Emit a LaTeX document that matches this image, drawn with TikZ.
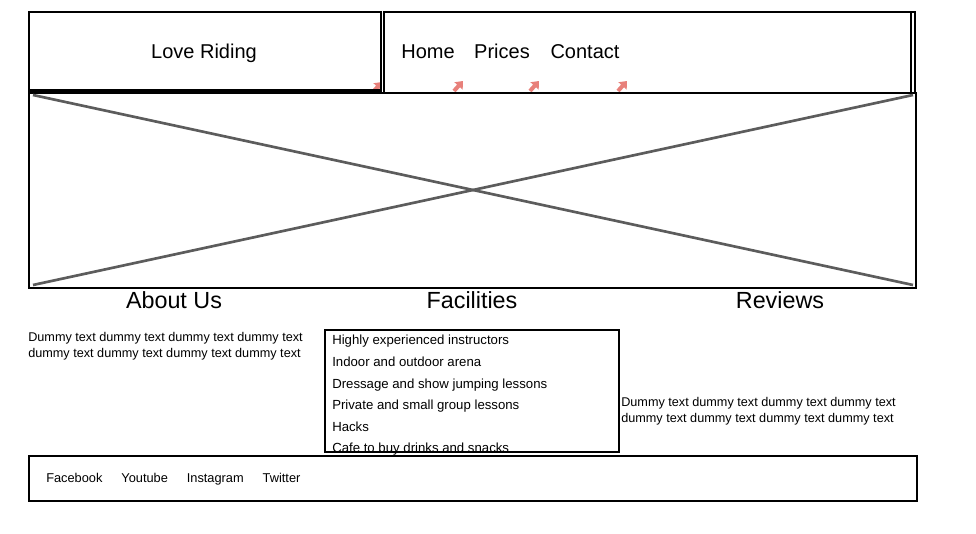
\documentclass[tikz,border=0pt]{standalone}
\usepackage{fontspec}
\setmainfont{Liberation Sans}
\usetikzlibrary{positioning,calc,arrows.meta}
\definecolor{linkred}{HTML}{E8807A}
\definecolor{crossgrey}{HTML}{5C5C5C}
\tikzstyle{wireframe}=[
    x=0.75pt,y=-0.75pt,
    every node/.style={
        inner sep=0pt,
        font=\fontsize{9.5}{12}\selectfont,
    }]
\tikzstyle{box}=[draw=black, line width=1.5pt]
\tikzstyle{cross}=[draw=crossgrey, line width=2pt]
\tikzstyle{brand}=[anchor=base, font=\fontsize{15}{18}\selectfont]
\tikzstyle{heading}=[anchor=base, font=\fontsize{17.5}{20}\selectfont]
\tikzstyle{item}=[text height=7.5pt, text depth=2.5pt, font=\fontsize{9.9}{12}\selectfont]
\tikzstyle{social}=[text height=7.5pt, text depth=2.5pt, font=\fontsize{9.6}{12}\selectfont]
\tikzstyle{linkmark}=[draw=linkred, line width=3pt, -{Triangle[length=5pt,width=8pt]}]
\newcommand{\dummytext}{Dummy text dummy text dummy text dummy text\\dummy text dummy text dummy text dummy text}

\begin{document}
\begin{tikzpicture}[wireframe]
    \useasboundingbox (0,0) rectangle (976,534);

    % link markers under the header
    \foreach \mx/\my in {377/87, 458/86, 534/86, 622/86}
        \draw[linkmark] (\mx-4,\my+5) -- (\mx+5,\my-5);

    % header
    \draw[box] (29,12) coordinate (logo nw) rectangle (381,91) coordinate (logo se);
    \draw[black, line width=2.6pt] (logo se) -- (logo se -| logo nw);
    \draw[box] (384,12) coordinate (nav nw) rectangle (911,93) coordinate (nav se);
    \draw[box] (nav nw -| nav se) -- (915,12) coordinate (nav edge) -- (nav edge |- nav se) -- (nav se);
    \node[brand] (logo) at (204,59) {Love Riding};
    \node[brand] (home) at (428,59) {Home};
    \node[brand] (prices) at (502,59) {Prices};
    \node[brand] (contact) at (585,59) {Contact};

    % banner image placeholder
    \draw[box] (29,93) coordinate (hero nw) rectangle (916,288) coordinate (hero se);
    \draw[cross] ($(hero nw)+(4,2)$) -- ($(hero se)+(-3,-3)$);
    \draw[cross] ($(hero nw |- hero se)+(4,-3)$) -- ($(hero se |- hero nw)+(-3,2)$);

    % sections
    \node[heading] (about) at (174,309) {About Us};
    \node[heading] (facilities) at (472,309) {Facilities};
    \node[heading] (reviews) at (780,309) {Reviews};

    \node[anchor=north west, align=left] (abouttext) at (28,332) {\dummytext};
    \node[anchor=north west, align=left] (reviewtext) at (621,397) {\dummytext};

    \draw[box] (325,330) coordinate (list nw) rectangle (619,452) coordinate (list se);
    \node[item, anchor=base west] (item1) at (332,345) {Highly experienced instructors};
    \node[item, below=5.75pt of item1.south west, anchor=north west] (item2) {Indoor and outdoor arena};
    \node[item, below=5.75pt of item2.south west, anchor=north west] (item3) {Dressage and show jumping lessons};
    \node[item, below=5.75pt of item3.south west, anchor=north west] (item4) {Private and small group lessons};
    \node[item, below=5.75pt of item4.south west, anchor=north west] (item5) {Hacks};
    \node[item, below=5.75pt of item5.south west, anchor=north west] (item6) {Cafe to buy drinks and snacks};

    % footer
    \draw[box] (29,456) coordinate (footer nw) rectangle (917,501) coordinate (footer se);
    \node[social, anchor=base west] (facebook) at (46,483) {Facebook};
    \node[social, right=13.8pt of facebook] (youtube) {Youtube};
    \node[social, right=13.8pt of youtube] (instagram) {Instagram};
    \node[social, right=13.8pt of instagram] (twitter) {Twitter};
\end{tikzpicture}
\end{document}
